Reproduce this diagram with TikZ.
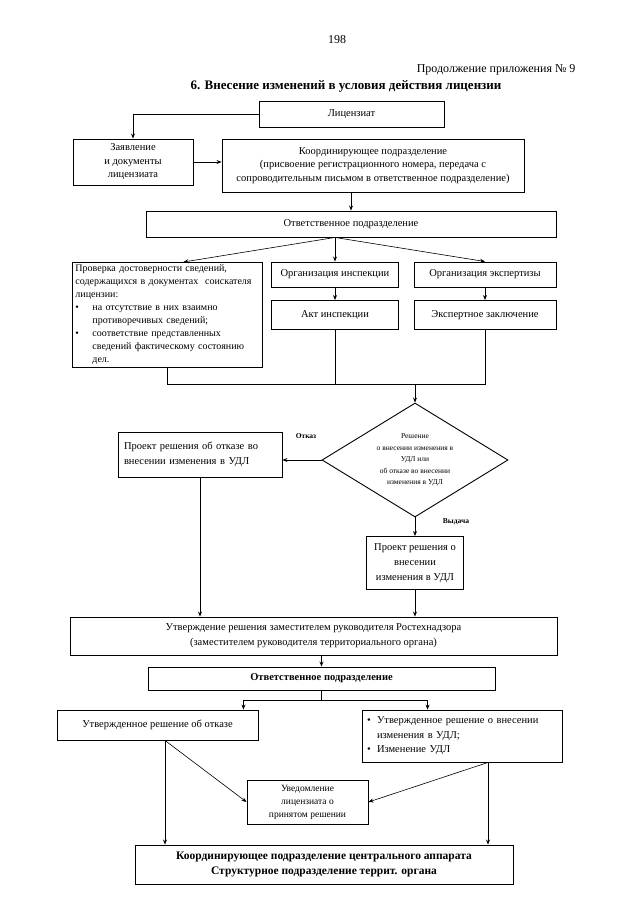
\documentclass[tikz,border=0pt]{standalone}
\usepackage{fontspec}
\setmainfont{Liberation Serif}
\usetikzlibrary{arrows.meta,shapes.geometric,calc}
\begin{document}
\begin{tikzpicture}[x=1pt,y=-1pt,
  box/.style={draw,line width=0.9pt,inner sep=2pt,align=center,font=\fontsize{10.5}{13.5}\selectfont},
  sz/.style 2 args={minimum width=#1pt,minimum height=#2pt},
  arr/.style={-{Stealth[length=5pt,width=4pt]},line width=0.8pt},
  thinarr/.style={-{Stealth[length=5pt,width=4pt]},line width=0.6pt},
  ln/.style={line width=0.8pt},
  lbl/.style={font=\bfseries\fontsize{7.5}{8}\selectfont}]
\useasboundingbox (0,0) rectangle (640,905);
\fill[white] (0,0) rectangle (640,905);

% header
\node[font=\fontsize{12}{14}\selectfont] (pg) at (337,40) {198};
\node[font=\fontsize{12}{14}\selectfont,anchor=east] (cont) at (579,70) {Продолжение приложения № 9};
\node[font=\bfseries\fontsize{13}{15}\selectfont] (title) at (346,86) {6. Внесение изменений в условия действия лицензии};

% top boxes
\node[box,sz={185}{26}] (lic) at (351.5,114) {Лицензиат};
\node[box,sz={120}{46}] (zay) at (133,162) {Заявление\\и документы\\лицензиата};
\node[box,sz={302}{53}] (koord) at (373,165.5) {Координирующее подразделение\\(присвоение регистрационного номера, передача с\\сопроводительным письмом в ответственное подразделение)};
\node[box,sz={410}{26}] (otv1) at (351,224) {Ответственное подразделение};

\node[box,sz={190}{105},align=left,text width=184pt,inner sep=1pt,anchor=north west,font=\fontsize{10}{13}\selectfont] (prov) at (72,262)
 {Проверка достоверности сведений,\\
  содержащихся в документах\ \ соискателя\\
  лицензии:\\
  \makebox[17pt][l]{\textbullet}на отсутствие в них взаимно\\
  \hspace*{17pt}противоречивых сведений;\\
  \makebox[17pt][l]{\textbullet}соответствие представленных\\
  \hspace*{17pt}сведений фактическому состоянию\\
  \hspace*{17pt}дел.};
\node[box,sz={127}{25}] (orgi) at (335,274.5) {Организация инспекции};
\node[box,sz={142}{25}] (orge) at (485,274.5) {Организация экспертизы};
\node[box,sz={127}{29}] (akt) at (335,315) {Акт инспекции};
\node[box,sz={142}{29}] (eksp) at (485,315) {Экспертное заключение};

% decision
\node[draw,diamond,line width=0.9pt,minimum width=186pt,minimum height=114pt,inner sep=0pt] (dia) at (415,460) {};
\node[font=\fontsize{7.5}{11.5}\selectfont,align=center] (diat) at (dia.center) {Решение\\о внесении изменения в\\УДЛ или\\об отказе во внесении\\изменения в УДЛ};
\node[lbl] (otkl) at (306,436) {Отказ};
\node[lbl] (vydl) at (456,522) {Выдача};

\node[box,sz={164}{45},align=left,text width=152pt,font=\fontsize{10.5}{15}\selectfont] (otk) at (200,454.5) {Проект решения об отказе во\\внесении изменения в УДЛ};
\node[box,sz={97}{53},font=\fontsize{10.5}{15}\selectfont] (vyd) at (415,563) {Проект решения о\\внесении\\изменения в УДЛ};

\node[box,sz={487}{38},font=\fontsize{10.5}{15}\selectfont] (utv) at (313.5,636) {Утверждение решения заместителем руководителя Ростехнадзора\\(заместителем руководителя территориального органа)};
\node[box,sz={347}{23},font=\bfseries\fontsize{10.5}{13}\selectfont] (otv2) at (321.5,678.5) {Ответственное подразделение};

\node[box,sz={201}{30}] (udl) at (157.5,725) {Утвержденное решение об отказе};
\node[box,sz={200}{52},align=left,text width=190pt,font=\fontsize{10.5}{14.5}\selectfont] (rbox) at (462,736)
 {\makebox[10pt][l]{\textbullet}Утвержденное решение о внесении\\
  \hspace*{10pt}изменения в УДЛ;\\
  \makebox[10pt][l]{\textbullet}Изменение УДЛ};
\node[box,sz={121}{44},font=\fontsize{9.5}{13}\selectfont] (uved) at (307.5,802) {Уведомление\\лицензиата о\\принятом решении};
\node[box,sz={378}{39},font=\bfseries\fontsize{11.5}{15}\selectfont] (bot) at (324,864.5) {Координирующее подразделение центрального аппарата\\Структурное подразделение террит. органа};

% connectors
\draw[arr] (lic.west) -| (zay.north);
\draw[arr] (zay.east) -- (zay.east -| koord.west);
\draw[arr] (otv1.north |- koord.south) -- (otv1.north);
\coordinate (fan) at (orgi.north |- otv1.south);
\draw[thinarr] (fan) -- ($(prov.north)+(16,0)$);
\draw[arr] (fan) -- (orgi.north);
\draw[thinarr] (fan) -- (orge.north);
\draw[arr] (orgi.south) -- (akt.north);
\draw[arr] (orge.south) -- (eksp.north);
\draw[ln] (prov.south) -- ++(0,16) coordinate (cl) -| (eksp.south);
\draw[ln] (akt.south) -- (akt.south |- cl);
\draw[arr] (dia.north |- cl) -- (dia.north);

\draw[arr] (dia.west) -- (dia.west -| otk.east);
\draw[arr] (dia.south) -- (vyd.north);
\draw[arr] (otk.south) -- (otk.south |- utv.north);
\draw[arr] (vyd.south) -- (vyd.south |- utv.north);
\draw[arr] (otv2.north |- utv.south) -- (otv2.north);
\draw[ln] (otv2.south) -- ++(0,10) coordinate (sp);
\coordinate (la) at ($(udl.north east)+(-15,0)$);
\coordinate (ra) at ($(rbox.north west)+(66,0)$);
\draw[arr] (sp) -| (la);
\draw[arr] (sp) -| (ra);
\coordinate (lb) at ($(udl.south)+(7.5,0)$);
\coordinate (rb) at ($(rbox.south)+(26,0)$);
\draw[arr] (lb) -- (lb |- bot.north);
\draw[thinarr] (lb) -- (uved.west);
\draw[arr] (rb) -- (rb |- bot.north);
\draw[thinarr] (rb) -- (uved.east);
\end{tikzpicture}
\end{document}
